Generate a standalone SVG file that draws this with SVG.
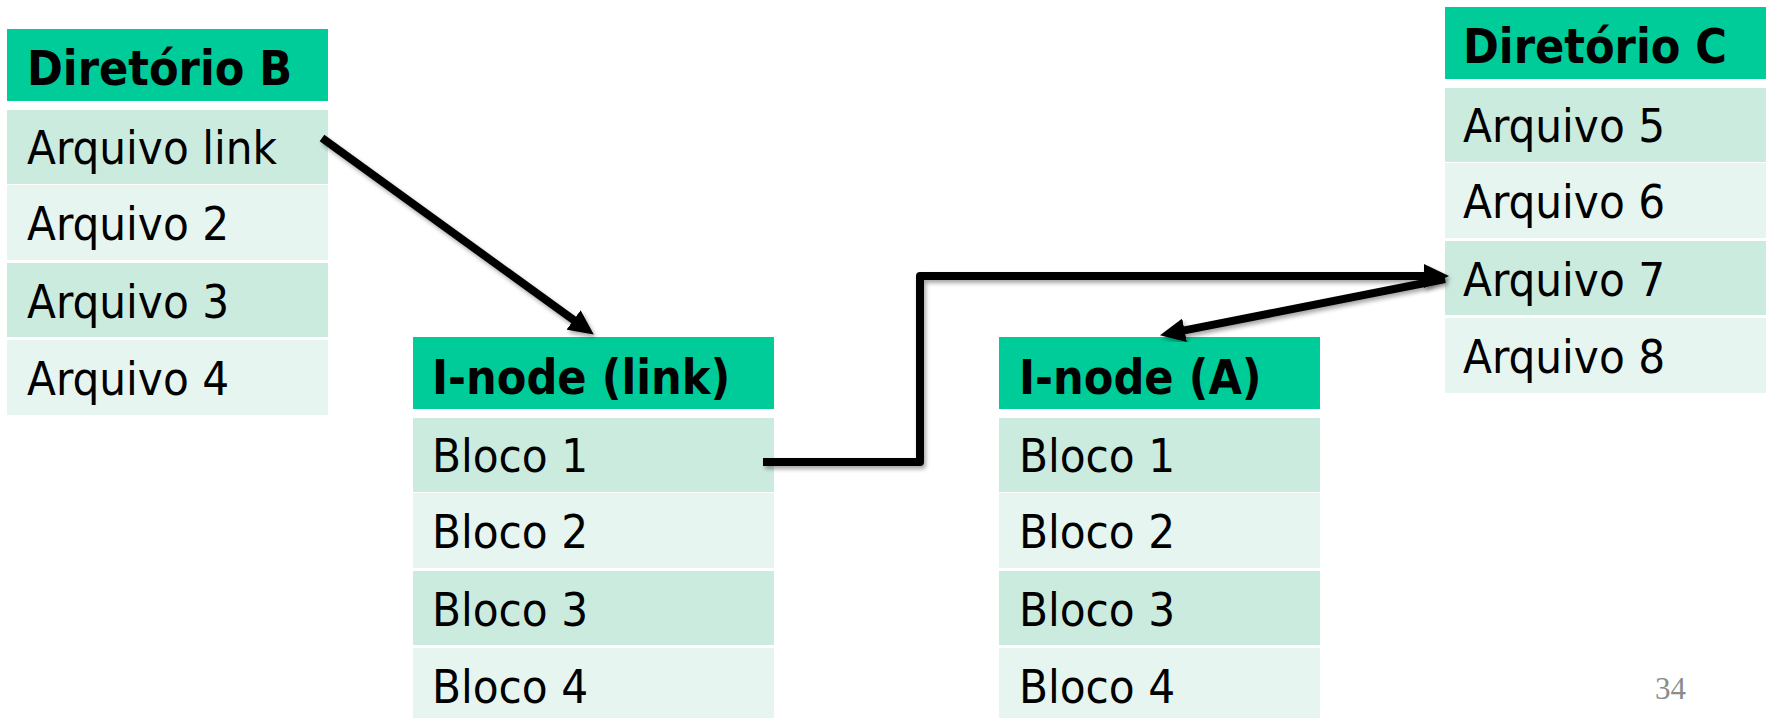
<svg xmlns="http://www.w3.org/2000/svg" width="1769" height="718" viewBox="0 0 1769 718">
<style>
.hd{fill:#00CC99}
.r1{fill:#CCEBDF}
.r2{fill:#E6F5EF}
.ht{font-family:"DejaVu Sans Condensed","DejaVu Sans",sans-serif;font-stretch:condensed;font-weight:bold;font-size:48px;fill:#000}
.rt{font-family:"DejaVu Sans Condensed","DejaVu Sans",sans-serif;font-stretch:condensed;font-size:47px;fill:#000}
.ln{fill:none;stroke:#000;stroke-width:8;stroke-linejoin:round;filter:url(#sh)}
.pg{font-family:"Liberation Serif",serif;font-size:31px;fill:#8C8C8C}
</style>
<defs>
<marker id="ah" markerUnits="userSpaceOnUse" markerWidth="26" markerHeight="24" refX="4" refY="12" orient="auto">
<path d="M0,0 L25,12 L0,24 z" fill="#000"/>
</marker>
<filter id="sh" x="-10%" y="-10%" width="120%" height="130%">
<feDropShadow dx="2" dy="3" stdDeviation="2" flood-color="#000" flood-opacity="0.35"/>
</filter>
</defs>
<rect width="1769" height="718" fill="#fff"/>

<g id="dirB" transform="translate(7,29)">
<rect class="hd" x="0" y="0" width="321" height="72"/>
<rect class="r1" x="0" y="81" width="321" height="74"/>
<rect class="r2" x="0" y="156" width="321" height="75"/>
<rect class="r1" x="0" y="234" width="321" height="74"/>
<rect class="r2" x="0" y="311" width="321" height="75"/>
<text class="ht" x="20" y="56">Diretório B</text>
<text class="rt" x="20" y="135">Arquivo link</text>
<text class="rt" x="20" y="211">Arquivo 2</text>
<text class="rt" x="20" y="289">Arquivo 3</text>
<text class="rt" x="20" y="366">Arquivo 4</text>
</g>

<g id="inodeLink" transform="translate(413,337)">
<rect class="hd" x="0" y="0" width="361" height="72"/>
<rect class="r1" x="0" y="81" width="361" height="74"/>
<rect class="r2" x="0" y="156" width="361" height="75"/>
<rect class="r1" x="0" y="234" width="361" height="74"/>
<rect class="r2" x="0" y="311" width="361" height="75"/>
<text class="ht" x="19" y="57">I-node (link)</text>
<text class="rt" x="19" y="135">Bloco 1</text>
<text class="rt" x="19" y="211">Bloco 2</text>
<text class="rt" x="19" y="289">Bloco 3</text>
<text class="rt" x="19" y="366">Bloco 4</text>
</g>

<g id="inodeA" transform="translate(999,337)">
<rect class="hd" x="0" y="0" width="321" height="72"/>
<rect class="r1" x="0" y="81" width="321" height="74"/>
<rect class="r2" x="0" y="156" width="321" height="75"/>
<rect class="r1" x="0" y="234" width="321" height="74"/>
<rect class="r2" x="0" y="311" width="321" height="75"/>
<text class="ht" x="20" y="57">I-node (A)</text>
<text class="rt" x="20" y="135">Bloco 1</text>
<text class="rt" x="20" y="211">Bloco 2</text>
<text class="rt" x="20" y="289">Bloco 3</text>
<text class="rt" x="20" y="366">Bloco 4</text>
</g>

<g id="dirC" transform="translate(1445,7)">
<rect class="hd" x="0" y="0" width="321" height="72"/>
<rect class="r1" x="0" y="81" width="321" height="74"/>
<rect class="r2" x="0" y="156" width="321" height="75"/>
<rect class="r1" x="0" y="234" width="321" height="74"/>
<rect class="r2" x="0" y="311" width="321" height="75"/>
<text class="ht" x="18" y="56">Diretório C</text>
<text class="rt" x="18" y="135">Arquivo 5</text>
<text class="rt" x="18" y="211">Arquivo 6</text>
<text class="rt" x="18" y="289">Arquivo 7</text>
<text class="rt" x="18" y="366">Arquivo 8</text>
</g>

<g id="connectors">
<path class="ln" d="M322,138 L576.8,322.3" marker-end="url(#ah)"/>
<path class="ln" d="M763,462 H920 V276 H1428" marker-end="url(#ah)"/>
<path class="ln" d="M1445,279 L1180.6,331.1" marker-end="url(#ah)"/>
</g>

<text class="pg" x="1655" y="699">34</text>
</svg>
